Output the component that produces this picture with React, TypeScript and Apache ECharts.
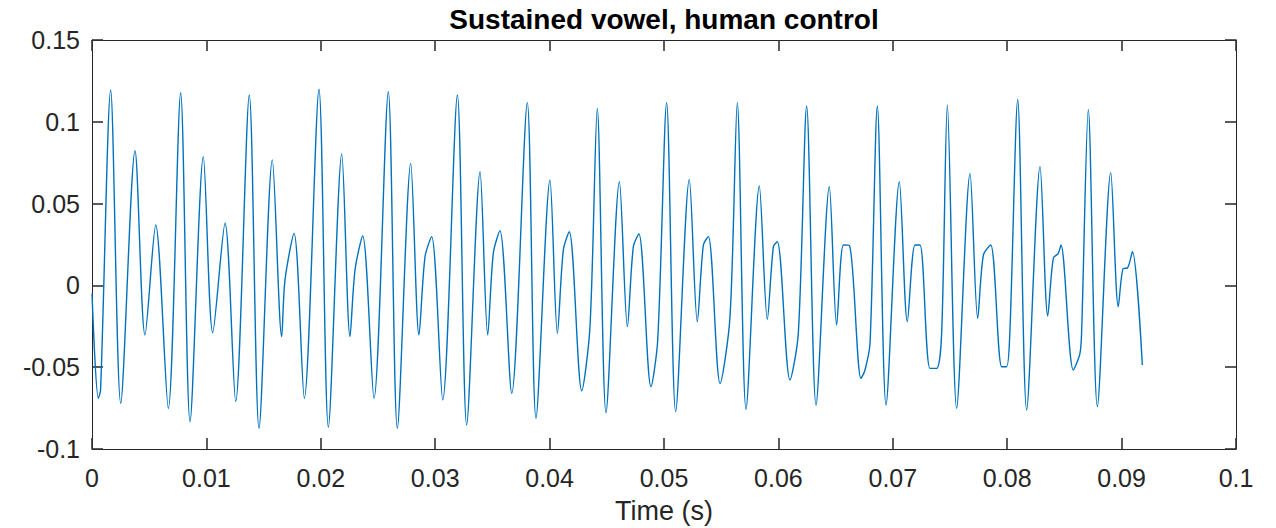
import React, { useEffect, useRef } from "react";
import * as echarts from "echarts";

// Time samples (s) (extrema, shoulders, kinks)
const timeS: number[] = [
  0.0, 0.00055, 0.00075, 0.00163, 0.00251, 0.00376, 0.00463, 0.00557, 0.00667, 0.00775,
  0.00857, 0.00973, 0.01055, 0.01163, 0.01256, 0.01375, 0.0146, 0.01576, 0.01658, 0.01687,
  0.01766, 0.01856, 0.01984, 0.02066, 0.02183, 0.02255, 0.02299, 0.02366, 0.02465, 0.0259,
  0.02669, 0.02786, 0.02858, 0.02911, 0.02969, 0.03066, 0.03194, 0.03275, 0.03392, 0.03459,
  0.03508, 0.03566, 0.03669, 0.03805, 0.03881, 0.04003, 0.04068, 0.0412, 0.04172, 0.04281,
  0.04353, 0.04417, 0.04493, 0.0461, 0.0468, 0.04732, 0.04781, 0.04886, 0.04945, 0.05023,
  0.05102, 0.05221, 0.05291, 0.05344, 0.05388, 0.0549, 0.05577, 0.05641, 0.05717, 0.05833,
  0.05903, 0.05956, 0.05991, 0.06101, 0.06174, 0.06247, 0.06329, 0.06445, 0.06509, 0.06568,
  0.0662, 0.06722, 0.06757, 0.06801, 0.06865, 0.06941, 0.07057, 0.07127, 0.07194, 0.07238,
  0.07325, 0.07384, 0.07427, 0.07477, 0.07558, 0.07675, 0.07742, 0.07792, 0.07856, 0.07952,
  0.07995, 0.08024, 0.08092, 0.0817, 0.08287, 0.08354, 0.08403, 0.08447, 0.0847, 0.08578,
  0.08636, 0.08651, 0.08709, 0.08788, 0.08905, 0.08971, 0.09015, 0.0905, 0.09094, 0.09181,
];

// Amplitude values read at those times
const amplitude: number[] = [
  -0.005, -0.069, -0.064, 0.1194, -0.072, 0.0823, -0.0303, 0.0369, -0.0752, 0.1178,
  -0.0833, 0.0787, -0.0289, 0.038, -0.071, 0.1164, -0.0874, 0.0767, -0.0313, 0.0033,
  0.0318, -0.069, 0.1199, -0.0867, 0.0803, -0.0313, 0.0094, 0.0302, -0.069, 0.1184,
  -0.0874, 0.0746, -0.0303, 0.0175, 0.0298, -0.07, 0.1164, -0.0853, 0.0695, -0.0303,
  0.0196, 0.0335, -0.066, 0.1117, -0.0812, 0.0644, -0.0293, 0.0216, 0.0328, -0.0644,
  -0.0252, 0.1082, -0.0778, 0.0634, -0.0252, 0.0237, 0.0314, -0.0619, -0.0334, 0.1117,
  -0.0772, 0.0648, -0.0222, 0.0247, 0.0298, -0.0599, -0.0191, 0.1117, -0.0757, 0.0608,
  -0.0207, 0.0237, 0.0267, -0.0578, -0.0293, 0.1097, -0.0731, 0.0603, -0.0242, 0.0247,
  0.0245, -0.0568, -0.0517, -0.0354, 0.1097, -0.0731, 0.0634, -0.0222, 0.0247, 0.0247,
  -0.0507, -0.0507, -0.0293, 0.1103, -0.0751, 0.0685, -0.0201, 0.0186, 0.0247, -0.0497,
  -0.0497, -0.0273, 0.1137, -0.0762, 0.0726, -0.0187, 0.0166, 0.0196, 0.0247, -0.0517,
  -0.0415, -0.0273, 0.1076, -0.0741, 0.0689, -0.013, 0.0104, 0.0106, 0.0206, -0.0487,
];

const titleText = "Sustained vowel, human control";
const xAxisLabel = "Time (s)";
const xMin = 0;
const xMax = 0.1;
const xStep = 0.01;
const yMin = -0.1;
const yMax = 0.15;
const yStep = 0.05;

const TEXT = "#262626";
const FONT = "'Liberation Sans', Arial, Helvetica, sans-serif";

const fmt = (v: number) => String(+v.toFixed(4));

const makeLine = () => ({ show: true, onZero: false, lineStyle: { color: TEXT, width: 1 } });
const makeTick = () => ({ show: true, inside: true, length: 11, lineStyle: { color: "#333333", width: 1.6 } });

export default function App() {
  const ref = useRef<HTMLDivElement | null>(null);
  useEffect(() => {
    if (!ref.current) return;
    const chart = echarts.init(ref.current, undefined, { renderer: "svg" });
    const data = timeS.map((t, i) => [t, amplitude[i]]);
    const gridLeft = 92;
    const gridRight = 40;
    const gridTop = 40;
    const gridBottom = 79;
    const plotCenter = gridLeft + (1276 - gridLeft - gridRight) / 2;
    chart.setOption({
      animation: false,
      grid: { left: gridLeft, right: gridRight, top: gridTop, bottom: gridBottom },
      xAxis: [
        {
          type: "value",
          position: "bottom",
          min: xMin,
          max: xMax,
          interval: xStep,
          axisLine: makeLine(),
          axisTick: makeTick(),
          splitLine: { show: false },
          axisLabel: { color: TEXT, fontSize: 25, fontFamily: FONT, margin: 16, formatter: fmt },
        },
        {
          type: "value",
          position: "top",
          min: xMin,
          max: xMax,
          interval: xStep,
          axisLine: makeLine(),
          axisTick: makeTick(),
          splitLine: { show: false },
          axisLabel: { show: false },
        },
      ],
      yAxis: [
        {
          type: "value",
          position: "left",
          min: yMin,
          max: yMax,
          interval: yStep,
          axisLine: makeLine(),
          axisTick: makeTick(),
          splitLine: { show: false },
          axisLabel: { color: TEXT, fontSize: 25, fontFamily: FONT, margin: 12, formatter: fmt },
        },
        {
          type: "value",
          position: "right",
          min: yMin,
          max: yMax,
          interval: yStep,
          axisLine: makeLine(),
          axisTick: makeTick(),
          splitLine: { show: false },
          axisLabel: { show: false },
        },
      ],
      series: [
        {
          type: "line",
          data,
          showSymbol: false,
          smooth: 0.3,
          lineStyle: { color: "#0072BD", width: 1.4 },
        },
      ],
      graphic: [
        {
          type: "text",
          x: plotCenter,
          y: 19,
          style: {
            text: titleText,
            fill: "#000000",
            font: `bold 28px ${FONT}`,
            textAlign: "center",
            textVerticalAlign: "middle",
          },
        },
        {
          type: "text",
          x: plotCenter,
          y: 511,
          style: {
            text: xAxisLabel,
            fill: TEXT,
            font: `27px ${FONT}`,
            textAlign: "center",
            textVerticalAlign: "middle",
          },
        },
      ],
    });
    return () => chart.dispose();
  }, []);
  return (
    <div
      ref={ref}
      style={{ position: "fixed", left: 0, top: 0, width: 1276, height: 528, background: "#ffffff" }}
    />
  );
}
